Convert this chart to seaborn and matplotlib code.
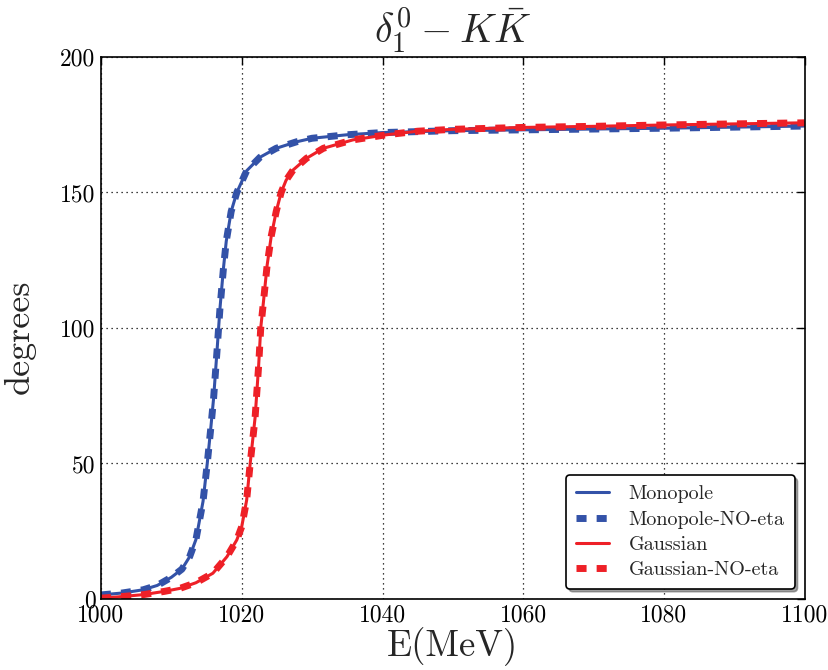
import matplotlib
matplotlib.use("Agg")
import matplotlib.pyplot as plt
import seaborn as sns
import pandas as pd

# Phase shift delta_1^0 - K Kbar versus energy (MeV, degrees)
mono_E = [1000, 1003, 1006, 1008, 1010, 1011.5, 1012.6, 1013.5, 1014.5, 1015.1,
          1015.6, 1016.0, 1016.5, 1016.9, 1017.4, 1017.8, 1018.5, 1019.3, 1020.7,
          1022.6, 1024.9, 1027.8, 1030, 1035, 1040, 1050, 1060, 1070, 1080, 1090, 1100]
mono_deg = [1.5, 2.2, 3.4, 5.0, 8.0, 11.0, 15.6, 22.0, 36.0, 50.0,
            63.0, 74.0, 92.0, 107.0, 122.0, 132.0, 143.0, 150.0, 158.0,
            163.0, 166.3, 168.7, 170.0, 171.3, 172.1, 172.8, 173.1, 173.4, 173.7, 174.1, 174.5]

mono_noeta_E = list(mono_E)
mono_noeta_deg = list(mono_deg)

gauss_E = [1000, 1003, 1006, 1009, 1011.2, 1013.5, 1015.9, 1017.9, 1019.3, 1020.0,
           1020.7, 1021.2, 1021.9, 1022.4, 1022.7, 1023.1, 1023.6, 1024.2,
           1024.9, 1025.6, 1026.3, 1027.3, 1029.2, 1031.6, 1035.8, 1040.6, 1045,
           1050, 1060, 1070, 1080, 1090, 1100]
gauss_deg = [0.3, 0.9, 1.6, 2.8, 3.9, 6.0, 9.5, 15.6, 21.8, 26.7,
             36.5, 50.0, 67.0, 86.0, 100.0, 110.0, 123.0, 134.0,
             143.0, 150.0, 154.5, 158.3, 162.6, 166.3, 169.4, 171.3, 172.6,
             173.3, 174.0, 174.4, 174.9, 175.3, 175.7]

gauss_noeta_E = list(gauss_E)
gauss_noeta_deg = list(gauss_deg)

x_ticks = [1000, 1020, 1040, 1060, 1080, 1100]
y_ticks = [0, 50, 100, 150, 200]

BLUE = "#3352a8"
RED = "#ee2027"

sns.set_theme(style="white")
plt.rcParams.update({
    "font.family": ["cmr10", "DejaVu Serif"],
    "mathtext.fontset": "cm",
    "axes.formatter.use_mathtext": True,
    "axes.unicode_minus": False,
})

fig = plt.figure(figsize=(8.29, 6.70), dpi=100)
ax = fig.add_axes([0.1218, 0.106, 0.849, 0.809])

DASH = (0, (1.45, 1.45))
series = [
    ("Monopole", mono_E, mono_deg, BLUE, 2.2, "-"),
    ("Monopole-NO-eta", mono_noeta_E, mono_noeta_deg, BLUE, 5.0, DASH),
    ("Gaussian", gauss_E, gauss_deg, RED, 2.2, "-"),
    ("Gaussian-NO-eta", gauss_noeta_E, gauss_noeta_deg, RED, 5.0, DASH),
]

for name, xs, ys, color, lw, ls in series:
    df = pd.DataFrame({"E": xs, "deg": ys})
    sns.lineplot(data=df, x="E", y="deg", ax=ax, color=color, linewidth=lw,
                 linestyle=ls, label=name, sort=False, estimator=None)

ax.set_xlim(1000, 1100)
ax.set_ylim(0, 200)
ax.set_xticks(x_ticks)
ax.set_yticks(y_ticks)
ax.set_xticklabels([str(t) for t in x_ticks])
ax.set_yticklabels([str(t) for t in y_ticks])
ax.tick_params(direction="in", top=True, right=True, length=6, width=1,
               labelsize=17, pad=4, colors="black")
ax.grid(True, color="black", linestyle=(0, (1, 3)), linewidth=0.9)
for sp in ax.spines.values():
    sp.set_color("black")
    sp.set_linewidth(1.2)

ax.set_xlabel("E(MeV)", fontsize=26.5, labelpad=0)
ax.set_ylabel("degrees", fontsize=26, labelpad=12)
ax.yaxis.set_label_coords(-0.092, 0.484)
ax.set_title(r"$\delta_1^0 - K\bar{K}$", fontsize=29, pad=10)

leg = ax.legend(loc="lower right", fontsize=14.5, fancybox=True, shadow=True,
                frameon=True, handlelength=1.6, borderpad=0.5, labelspacing=0.35,
                handletextpad=1.0, borderaxespad=0.5)
leg.get_frame().set_edgecolor("black")
leg.get_frame().set_linewidth(1.2)
leg.get_frame().set_facecolor("white")
leg.get_frame().set_alpha(1.0)

fig.savefig("out.png", dpi=100)
